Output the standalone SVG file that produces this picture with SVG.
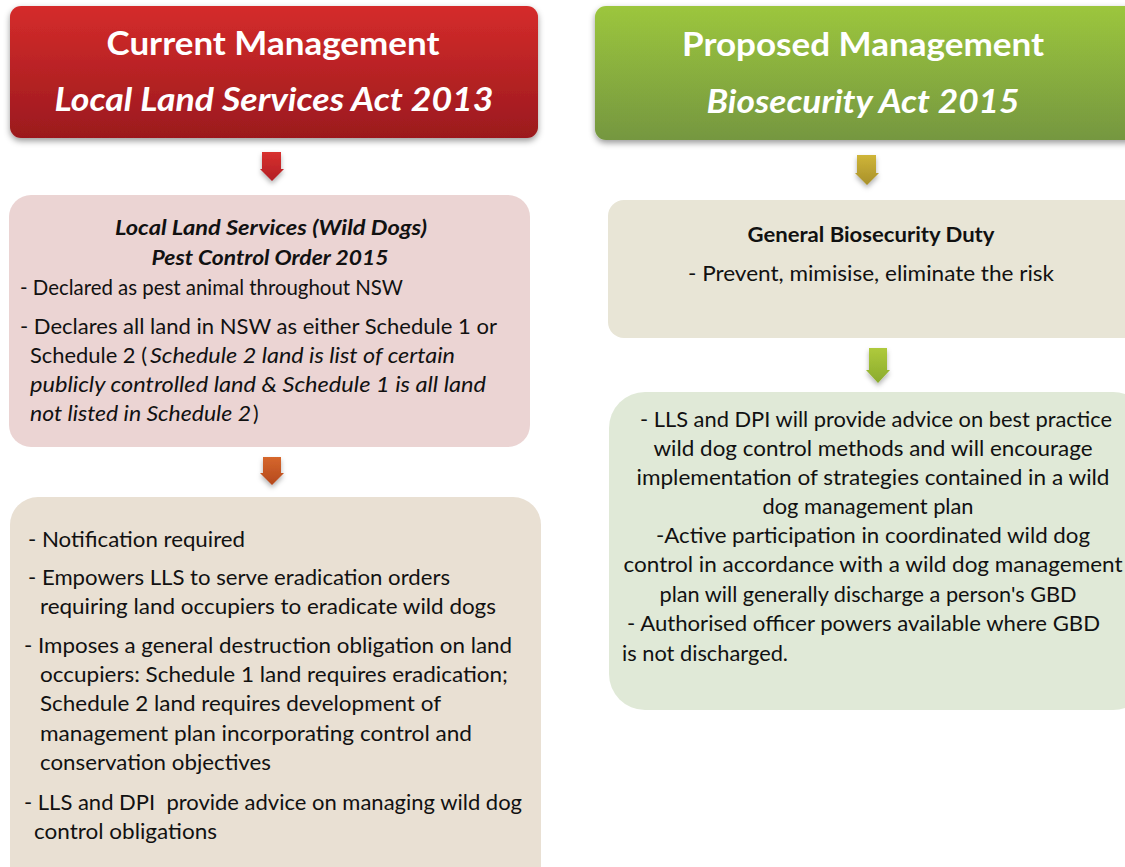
<svg xmlns="http://www.w3.org/2000/svg" width="1125" height="867" viewBox="0 0 1125 867">
  <defs>
    <linearGradient id="gRed" x1="0" y1="0" x2="0" y2="1">
      <stop offset="0" stop-color="#d52c2b"/>
      <stop offset="1" stop-color="#9b191e"/>
    </linearGradient>
    <linearGradient id="gGreen" x1="0" y1="0" x2="0" y2="1">
      <stop offset="0" stop-color="#9cc63e"/>
      <stop offset="1" stop-color="#75973f"/>
    </linearGradient>
    <linearGradient id="aRed" x1="0" y1="0" x2="0" y2="1">
      <stop offset="0" stop-color="#d8312f"/>
      <stop offset="1" stop-color="#b21f25"/>
    </linearGradient>
    <linearGradient id="aOrange" x1="0" y1="0" x2="0" y2="1">
      <stop offset="0" stop-color="#d6672d"/>
      <stop offset="1" stop-color="#b4481c"/>
    </linearGradient>
    <linearGradient id="aYellow" x1="0" y1="0" x2="0" y2="1">
      <stop offset="0" stop-color="#cfb538"/>
      <stop offset="1" stop-color="#a8902a"/>
    </linearGradient>
    <linearGradient id="aGreen" x1="0" y1="0" x2="0" y2="1">
      <stop offset="0" stop-color="#afca3c"/>
      <stop offset="1" stop-color="#8aab2d"/>
    </linearGradient>
    <filter id="shadow" x="-10%" y="-10%" width="120%" height="130%">
      <feDropShadow dx="0" dy="3" stdDeviation="3" flood-color="#000" flood-opacity="0.4"/>
    </filter>
    <filter id="ashadow" x="-50%" y="-30%" width="200%" height="180%">
      <feDropShadow dx="0" dy="3" stdDeviation="2.5" flood-color="#000" flood-opacity="0.3"/>
    </filter>
  </defs>
  <style>
    text { font-family: Lato, "Open Sans", "Liberation Sans", sans-serif; fill: #111; }
    .hd { font-size: 33px; font-weight: bold; fill: #fff; text-anchor: middle; }
    .hi { font-style: italic; }
    .b { font-size: 21px; }
    .c { text-anchor: middle; }
    .it { font-style: italic; }
    .bi { font-style: italic; font-weight: bold; }
    .bo { font-weight: bold; }
  </style>
  <rect width="1125" height="867" fill="#fff"/>

  <!-- header: current management -->
  <g id="hdr-current">
    <rect x="10" y="6" width="528" height="132" rx="11" fill="url(#gRed)" filter="url(#shadow)"/>
    <text class="hd" x="273" y="55" textLength="333" lengthAdjust="spacingAndGlyphs">Current Management</text>
    <text class="hd hi" x="274" y="111" textLength="439" lengthAdjust="spacingAndGlyphs">Local Land Services Act 2013</text>
  </g>

  <!-- header: proposed management -->
  <g id="hdr-proposed">
    <rect x="595" y="6" width="545" height="134" rx="11" fill="url(#gGreen)" filter="url(#shadow)"/>
    <text class="hd" x="863" y="56" textLength="362" lengthAdjust="spacingAndGlyphs">Proposed Management</text>
    <text class="hd hi" x="863" y="113" textLength="313" lengthAdjust="spacingAndGlyphs">Biosecurity Act 2015</text>
  </g>

  <!-- pest control order -->
  <g id="pco">
    <rect x="9" y="195" width="521" height="252" rx="22" fill="#ebd4d3"/>
    <text class="b bi c" x="271" y="235" textLength="312" lengthAdjust="spacingAndGlyphs">Local Land Services (Wild Dogs)</text>
    <text class="b bi c" x="270" y="265" textLength="237" lengthAdjust="spacingAndGlyphs">Pest Control Order 2015</text>
    <text class="b" x="20" y="295" textLength="383" lengthAdjust="spacingAndGlyphs">- Declared as pest animal throughout NSW</text>
    <text class="b" x="20" y="334" textLength="477" lengthAdjust="spacingAndGlyphs">- Declares all land in NSW as either Schedule 1 or</text>
    <text class="b" x="30" y="363" textLength="117" lengthAdjust="spacingAndGlyphs">Schedule 2 (</text>
    <text class="b it" x="150" y="363" textLength="305" lengthAdjust="spacingAndGlyphs">Schedule 2 land is list of certain</text>
    <text class="b it" x="30" y="392" textLength="456" lengthAdjust="spacingAndGlyphs">publicly controlled land &amp; Schedule 1 is all land</text>
    <text class="b it" x="30" y="421" textLength="221" lengthAdjust="spacingAndGlyphs">not listed in Schedule 2</text>
    <text class="b" x="253" y="421">)</text>
  </g>

  <!-- current obligations -->
  <g id="current-obligations">
    <rect x="10" y="497" width="531" height="400" rx="28" fill="#e9e0d3"/>
    <text class="b" x="28" y="547" textLength="217" lengthAdjust="spacingAndGlyphs">- Notification required</text>
    <text class="b" x="28" y="585" textLength="422" lengthAdjust="spacingAndGlyphs">- Empowers LLS to serve eradication orders</text>
    <text class="b" x="40" y="614" textLength="456" lengthAdjust="spacingAndGlyphs">requiring land occupiers to eradicate wild dogs</text>
    <text class="b" x="24" y="653" textLength="488" lengthAdjust="spacingAndGlyphs">- Imposes a general destruction obligation on land</text>
    <text class="b" x="40" y="682" textLength="468" lengthAdjust="spacingAndGlyphs">occupiers: Schedule 1 land requires eradication;</text>
    <text class="b" x="40" y="711" textLength="401" lengthAdjust="spacingAndGlyphs">Schedule 2 land requires development of</text>
    <text class="b" x="40" y="741" textLength="432" lengthAdjust="spacingAndGlyphs">management plan incorporating control and</text>
    <text class="b" x="40" y="770" textLength="231" lengthAdjust="spacingAndGlyphs">conservation objectives</text>
    <text class="b" x="24" y="810" textLength="498" lengthAdjust="spacingAndGlyphs" xml:space="preserve">- LLS and DPI  provide advice on managing wild dog</text>
    <text class="b" x="34" y="839" textLength="183" lengthAdjust="spacingAndGlyphs">control obligations</text>
  </g>

  <!-- general biosecurity duty -->
  <g id="gbd">
    <rect x="608" y="200" width="540" height="138" rx="16" fill="#e8e5d6"/>
    <text class="b bo c" x="871" y="242" textLength="247" lengthAdjust="spacingAndGlyphs">General Biosecurity Duty</text>
    <text class="b c" x="871" y="281" textLength="366" lengthAdjust="spacingAndGlyphs">- Prevent, mimisise, eliminate the risk</text>
  </g>

  <!-- proposed obligations -->
  <g id="proposed-obligations">
    <rect x="609" y="392" width="540" height="318" rx="36" fill="#e0e9d7"/>
    <text class="b c" x="876" y="427" textLength="472" lengthAdjust="spacingAndGlyphs">- LLS and DPI will provide advice on best practice</text>
    <text class="b c" x="873" y="456" textLength="439" lengthAdjust="spacingAndGlyphs">wild dog control methods and will encourage</text>
    <text class="b c" x="873" y="485" textLength="473" lengthAdjust="spacingAndGlyphs">implementation of strategies contained in a wild</text>
    <text class="b c" x="868" y="514" textLength="211" lengthAdjust="spacingAndGlyphs">dog management plan</text>
    <text class="b c" x="873" y="543" textLength="434" lengthAdjust="spacingAndGlyphs">-Active participation in coordinated wild dog</text>
    <text class="b c" x="873" y="572" textLength="499" lengthAdjust="spacingAndGlyphs">control in accordance with a wild dog management</text>
    <text class="b c" x="868" y="602" textLength="417" lengthAdjust="spacingAndGlyphs">plan will generally discharge a person's GBD</text>
    <text class="b" x="627" y="631" textLength="473" lengthAdjust="spacingAndGlyphs">- Authorised officer powers available where GBD</text>
    <text class="b" x="622" y="661" textLength="166" lengthAdjust="spacingAndGlyphs">is not discharged.</text>
  </g>

  <!-- connectors: block arrows -->
  <g id="connectors" filter="url(#ashadow)">
    <path d="M262,152 H281 V169 H284 L272,181 L260,169 H262 Z" fill="url(#aRed)"/>
    <path d="M263,457 H281 V473 H284 L272,485 L260,473 H263 Z" fill="url(#aOrange)"/>
    <path d="M857,155 H876 V173 H879 L867,185 L855,173 H857 Z" fill="url(#aYellow)"/>
    <path d="M869,348 H887 V370 H890 L878,383 L866,370 H869 Z" fill="url(#aGreen)"/>
  </g>
</svg>
